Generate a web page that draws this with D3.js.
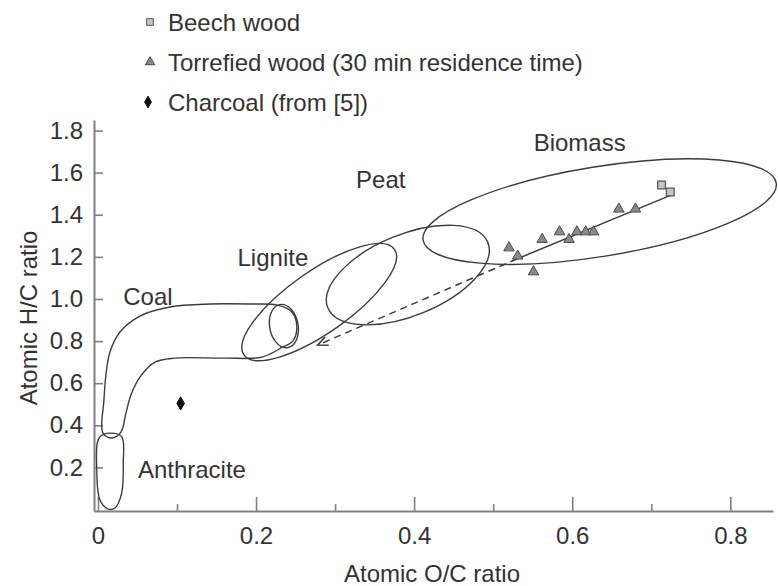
<!DOCTYPE html>
<html><head><meta charset="utf-8">
<script src="https://cdn.jsdelivr.net/npm/d3@7"></script>
<style>
body{margin:0;background:#fff}
svg{display:block}
text{font-family:"Liberation Sans",Arial,Helvetica,sans-serif;fill:#333}
</style>
</head><body>
<svg id="c" width="778" height="586"></svg>
<script>
// ---------- data ----------
const xMajorTicks = [0, 0.2, 0.4, 0.6, 0.8];
const xMinorTicks = [0.1, 0.3, 0.5, 0.7];
const yTicks = [0.2, 0.4, 0.6, 0.8, 1.0, 1.2, 1.4, 1.6, 1.8];

const beechWood = [[0.713, 1.541], [0.724, 1.508]];
const torrefiedWood = [
  [0.520, 1.243], [0.531, 1.204], [0.551, 1.129], [0.562, 1.283],
  [0.584, 1.319], [0.596, 1.283], [0.606, 1.319], [0.617, 1.319],
  [0.627, 1.319], [0.659, 1.427], [0.680, 1.427]
];
const charcoal = [[0.1046, 0.504]];

const trendSolid = [[0.725, 1.493], [0.530, 1.190]];
const trendDashed = [[0.530, 1.190], [0.278, 0.781]];

// ellipse regions: centre, end of major semi-axis, minor/major ratio
const biomassRegion = {c: [0.6347, 1.415], m: [0.8581, 1.5508], r: 0.251};
const peatRegion    = {c: [0.3920, 1.1135], m: [0.4932, 1.2688], r: 0.47};
const ligniteRegion = {c: [0.2799, 0.9853], m: [0.3751, 1.2360], r: 0.337};
const coalEndRegion = {c: [0.2352, 0.8713], m: [0.2301, 0.9734], r: 0.65};

const coalOutline = [
  [0.0063, 0.363], [0.0076, 0.520], [0.0101, 0.639], [0.0152, 0.748],
  [0.0278, 0.843], [0.0531, 0.919], [0.0910, 0.962], [0.1416, 0.976],
  [0.1922, 0.976], [0.2276, 0.971], [0.2453, 0.938], [0.2516, 0.871],
  [0.2465, 0.800], [0.2339, 0.772], [0.2074, 0.724], [0.1606, 0.719],
  [0.0974, 0.719], [0.0721, 0.700], [0.0531, 0.629], [0.0417, 0.544],
  [0.0354, 0.458], [0.0291, 0.368], [0.0177, 0.340]
];
const anthraciteOutline = [
  [0.0025, 0.346], [0.0152, 0.363], [0.030, 0.346], [0.032, 0.221],
  [0.030, 0.078], [0.0215, 0.007], [0.013, 0.002], [0.0025, 0.045],
  [-0.0016, 0.203], [-0.0009, 0.316]
];

const regionLabels = ["Biomass", "Peat", "Lignite", "Coal", "Anthracite"];
const regionLabelPos = [[0.6094, 1.745], [0.3578, 1.569], [0.2213, 1.199], [0.0632, 1.014], [0.1189, 0.188]];

const legendLabels = ["Beech wood", "Torrefied wood (30 min residence time)", "Charcoal (from [5])"];

// ---------- drawing ----------
const svg = d3.select("#c");
const x = d3.scaleLinear().domain([-0.005, 0.854]).range([94, 773]);
const y = d3.scaleLinear().domain([-0.007, 1.85]).range([511, 120]);

const ink = "#3c3c3c";
const axisCol = "#808080";
const FS = 24;

// axes
const gx = svg.append("g").attr("transform", `translate(0,${y.range()[0]})`)
  .call(d3.axisBottom(x).tickValues(xMajorTicks).tickSize(-14).tickSizeOuter(0).tickPadding(16)
    .tickFormat(d => d === 0 ? "0" : d3.format(".1f")(d)));
const gxm = svg.append("g").attr("transform", `translate(0,${y.range()[0]})`)
  .call(d3.axisBottom(x).tickValues(xMinorTicks).tickSize(-7).tickSizeOuter(0).tickFormat(""));
gxm.select(".domain").remove();
const gy = svg.append("g").attr("transform", `translate(${x.range()[0]},0)`)
  .call(d3.axisLeft(y).tickValues(yTicks).tickSize(-9).tickSizeOuter(0).tickPadding(11)
    .tickFormat(d3.format(".1f")));
[gx, gxm, gy].forEach(g => {
  g.selectAll("path.domain").attr("stroke", axisCol).attr("stroke-width", 2);
  g.selectAll(".tick line").attr("stroke", axisCol).attr("stroke-width", 1.6);
  g.selectAll("text").attr("font-size", FS).attr("font-family", '"Liberation Sans",Arial,sans-serif').attr("fill", "#333");
});

// axis titles
svg.append("text").attr("x", 432).attr("y", 582).attr("text-anchor", "middle")
  .attr("font-size", FS).text("Atomic O/C ratio");
svg.append("text").attr("transform", "translate(37,318) rotate(-90)").attr("text-anchor", "middle")
  .attr("font-size", FS).text("Atomic H/C ratio");

// regions
const lineGen = d3.line().x(d => x(d[0])).y(d => y(d[1])).curve(d3.curveCatmullRomClosed.alpha(0.5));
function drawEllipse(e) {
  const cx = x(e.c[0]), cy = y(e.c[1]);
  const mx = x(e.m[0]), my = y(e.m[1]);
  const a = Math.hypot(mx - cx, my - cy);
  const ang = Math.atan2(my - cy, mx - cx) * 180 / Math.PI;
  svg.append("ellipse").attr("cx", 0).attr("cy", 0).attr("rx", a).attr("ry", a * e.r)
    .attr("transform", `translate(${cx},${cy}) rotate(${ang})`)
    .attr("fill", "none").attr("stroke", ink).attr("stroke-width", 1.4);
}
[biomassRegion, peatRegion, ligniteRegion, coalEndRegion].forEach(drawEllipse);
svg.append("path").attr("d", lineGen(coalOutline)).attr("fill", "none").attr("stroke", ink).attr("stroke-width", 1.4);
svg.append("path").attr("d", lineGen(anthraciteOutline)).attr("fill", "none").attr("stroke", ink).attr("stroke-width", 1.4);

// region labels
regionLabels.forEach((t, i) => {
  svg.append("text").attr("x", x(regionLabelPos[i][0])).attr("y", y(regionLabelPos[i][1]))
    .attr("text-anchor", "middle").attr("dominant-baseline", "central")
    .attr("font-size", FS).text(t);
});

// trend line
const straight = d3.line().x(d => x(d[0])).y(d => y(d[1]));
svg.append("path").attr("d", straight(trendSolid)).attr("fill", "none").attr("stroke", ink).attr("stroke-width", 1.5);
svg.append("path").attr("d", straight(trendDashed)).attr("fill", "none").attr("stroke", ink)
  .attr("stroke-width", 1.5).attr("stroke-dasharray", "7,5");
// arrow head
{
  const p1 = trendDashed[0], p2 = trendDashed[1];
  const ex = x(p2[0]), ey = y(p2[1]);
  const ang = Math.atan2(ey - y(p1[1]), ex - x(p1[0]));
  const L = 11, w = 0.42;
  const a1 = [ex - L * Math.cos(ang - w), ey - L * Math.sin(ang - w)];
  const a2 = [ex - L * Math.cos(ang + w), ey - L * Math.sin(ang + w)];
  svg.append("path").attr("d", `M${a1}L${ex},${ey}L${a2}`).attr("fill", "none")
    .attr("stroke", ink).attr("stroke-width", 1.6);
}

// markers
const tri = d3.symbol().type(d3.symbolTriangle).size(48);
const sq = d3.symbol().type(d3.symbolSquare).size(60);
const dia = d3.symbol().type(d3.symbolDiamond).size(50);
svg.selectAll(".tw").data(torrefiedWood).join("path").attr("d", tri)
  .attr("transform", d => `translate(${x(d[0])},${y(d[1])})`)
  .attr("fill", "#8a8a8a").attr("stroke", "#4a4a4a").attr("stroke-width", 1);
svg.selectAll(".bw").data(beechWood).join("path").attr("d", sq)
  .attr("transform", d => `translate(${x(d[0])},${y(d[1])})`)
  .attr("fill", "#c4c4c4").attr("stroke", "#555").attr("stroke-width", 1.2);
svg.selectAll(".cc").data(charcoal).join("path").attr("d", dia)
  .attr("transform", d => `translate(${x(d[0])},${y(d[1])})`)
  .attr("fill", "#111").attr("stroke", "#111");

// legend
const legendSymbols = [
  {d: d3.symbol().type(d3.symbolSquare).size(45)(), fill: "#c4c4c4", stroke: "#555"},
  {d: d3.symbol().type(d3.symbolTriangle).size(38)(), fill: "#8a8a8a", stroke: "#4a4a4a"},
  {d: d3.symbol().type(d3.symbolDiamond).size(40)(), fill: "#111", stroke: "#111"}
];
legendLabels.forEach((t, i) => {
  const yy = 22 + i * 40;
  svg.append("path").attr("d", legendSymbols[i].d).attr("transform", `translate(${i === 2 ? 148 : 150},${yy})`)
    .attr("fill", legendSymbols[i].fill).attr("stroke", legendSymbols[i].stroke).attr("stroke-width", 1);
  svg.append("text").attr("x", 168).attr("y", yy + 8.5).attr("font-size", FS).text(t);
});
</script>
</body></html>
